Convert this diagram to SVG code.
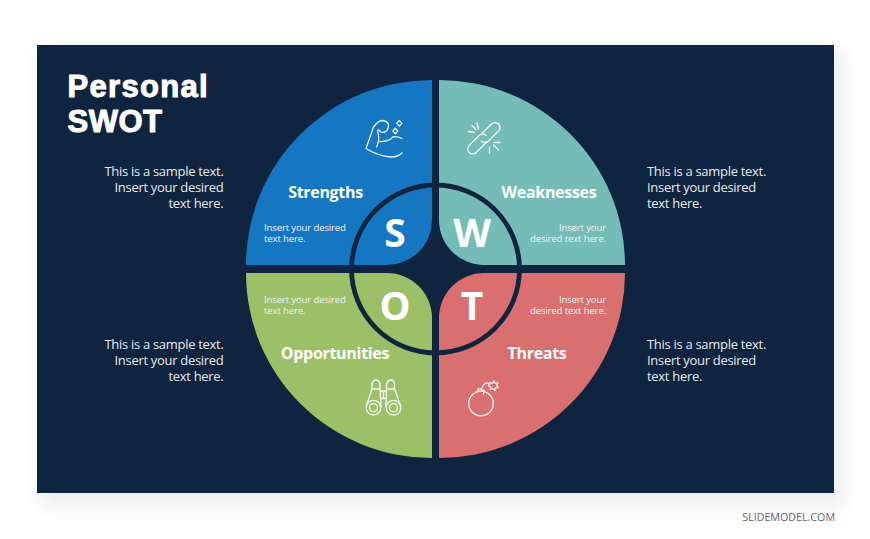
<svg xmlns="http://www.w3.org/2000/svg" width="870" height="539" viewBox="0 0 870 539">
<style>
text{font-family:"Open Sans","Noto Sans","Liberation Sans",sans-serif;fill:#fff}
.side{font-size:13px;letter-spacing:-.3px;fill:#e6e9ed}
.r{text-anchor:end}
.head{font-size:16px;font-weight:700;text-anchor:middle;letter-spacing:-.3px}
.small{font-size:9.6px;letter-spacing:-.15px;fill:#eef3f3}
.letter{font-size:39px;font-weight:700;text-anchor:middle}
.title{font-family:"Liberation Sans",Arial,sans-serif;font-size:31px;font-weight:700;stroke:#fff;stroke-width:1px}
.icon{fill:none;stroke:#fff;stroke-width:1.3;stroke-linecap:round;stroke-linejoin:round;opacity:.92}
</style>
<defs><filter id="blur" x="-10%" y="-10%" width="120%" height="120%"><feGaussianBlur stdDeviation="10"/></filter></defs>
<rect width="870" height="539" fill="#fff"/>
<rect x="40" y="50" width="803" height="457" fill="#000" opacity=".07" filter="url(#blur)"/>
<rect id="slide" x="37" y="45" width="797" height="448" fill="#0f253f"/>
<g id="title"><text class="title" x="67.500" y="97" letter-spacing="1.300">Personal</text><text class="title" x="67.500" y="132" letter-spacing=".5">SWOT</text></g>
<g id="notes-left">
<text class="side r" x="223.500" y="176">This is a sample text.</text><text class="side r" x="223.500" y="192">Insert your desired</text><text class="side r" x="223.500" y="208">text here.</text>
<text class="side r" x="223.500" y="349">This is a sample text.</text><text class="side r" x="223.500" y="365">Insert your desired</text><text class="side r" x="223.500" y="381">text here.</text>
</g>
<g id="notes-right">
<text class="side" x="647" y="176">This is a sample text.</text><text class="side" x="647" y="192">Insert your desired</text><text class="side" x="647" y="208">text here.</text>
<text class="side" x="647" y="349">This is a sample text.</text><text class="side" x="647" y="365">Insert your desired</text><text class="side" x="647" y="381">text here.</text>
</g>
<g id="strengths">
<path d="M432 80V220A45 45 0 0 1 387 265H246A186 185 0 0 1 432 80Z" fill="#1577c1"/>
<text class="head" x="325.500" y="198">Strengths</text>
<text class="small" x="264" y="230.500">Insert your desired</text><text class="small" x="264" y="242">text here.</text>
<text class="letter" x="395" y="247">S</text>
<g class="icon"><path d="M366 148.500L373.500 127Q378 121 382 120.500Q388 121 388.500 125Q388.500 130 385 132Q381 133 380 131Q377 128 378 133Q380 140 376.500 147M380 141.500Q388 142 393 137Q397 136 402 138.500M366 148.500Q378 156 391 157Q398 157 402 153"/><path d="M399.300 120.500l2.500 2.800-2.500 2.800-2.500-2.800zM395.300 128.200l2.500 2.800-2.500 2.800-2.500-2.800z"/></g>
</g>
<g id="weaknesses">
<path d="M439 80V220A45 45 0 0 0 484 265H625A186 185 0 0 0 439 80Z" fill="#76bcb6"/>
<text class="head" x="549" y="198">Weaknesses</text>
<text class="small r" x="606" y="230.500">Insert your</text><text class="small r" x="606" y="242">desired text here.</text>
<text class="letter" x="472" y="247">W</text>
<g class="icon"><path transform="translate(490 132.500) rotate(-45)" d="M-8 -5H7A5 5 0 0 1 7 5H-7A5 5 0 0 1 -12 0"/><path transform="translate(477.700 144) rotate(-45)" d="M8 5H-7A5 5 0 0 1 -7 -5H7A5 5 0 0 1 12 0"/><path d="M468.500 131.500l6 1M477 123l1.500 6M472 125.500l4 4M489.500 153v-6M498.500 150l-5-5M500 142.500h-6"/></g>
</g>
<g id="opportunities">
<path d="M432 318V458A186 185 0 0 1 246 273H387A45 45 0 0 1 432 318Z" fill="#9cc068"/>
<text class="head" x="335" y="359">Opportunities</text>
<text class="small" x="264" y="302.500">Insert your desired</text><text class="small" x="264" y="314">text here.</text>
<text class="letter" x="395" y="320">O</text>
<g class="icon"><circle cx="373.500" cy="407.700" r="7.300"/><circle cx="373.500" cy="407.700" r="4"/><circle cx="393.500" cy="407.700" r="7.300"/><circle cx="393.500" cy="407.700" r="4"/><path d="M366.300 406L372 389V384Q373 380 376 380Q379 380 380 384V389L381 406M386 406L386.500 389V384Q387.500 380 391 380Q394 380 394.500 384V389L400.700 406M372 389H380M386.500 389H394.500M381 391H386M381 398.500H386M383.500 391V398.500"/></g>
</g>
<g id="threats">
<path d="M439 318A45 45 0 0 1 484 273H625A186 185 0 0 1 439 458Z" fill="#d96f6f"/>
<text class="head" x="537" y="359">Threats</text>
<text class="small r" x="606" y="302.500">Insert your</text><text class="small r" x="606" y="314">desired text here.</text>
<text class="letter" x="472" y="320">T</text>
<g class="icon"><circle cx="481" cy="403.500" r="12.300"/><path d="M477 392.500L478.500 388.500L484.500 390.500L483.500 394M481.500 388.800Q484 381 490 384"/><path d="M490 382.500l2.500.8 1.300-2.300 1.200 2.300 3-.5-1.300 2.700 1.600 2-2.800.2-.7 2.800-2-2-2.500 1 .3-2.700-2.200-1.400z"/></g>
</g>
<circle id="ring" cx="435.500" cy="269" r="84" fill="none" stroke="#0f253f" stroke-width="4.800"/>
<text x="835" y="521" text-anchor="end" style="font-size:10.700px;fill:#666">SLIDEMODEL.COM</text>
</svg>
